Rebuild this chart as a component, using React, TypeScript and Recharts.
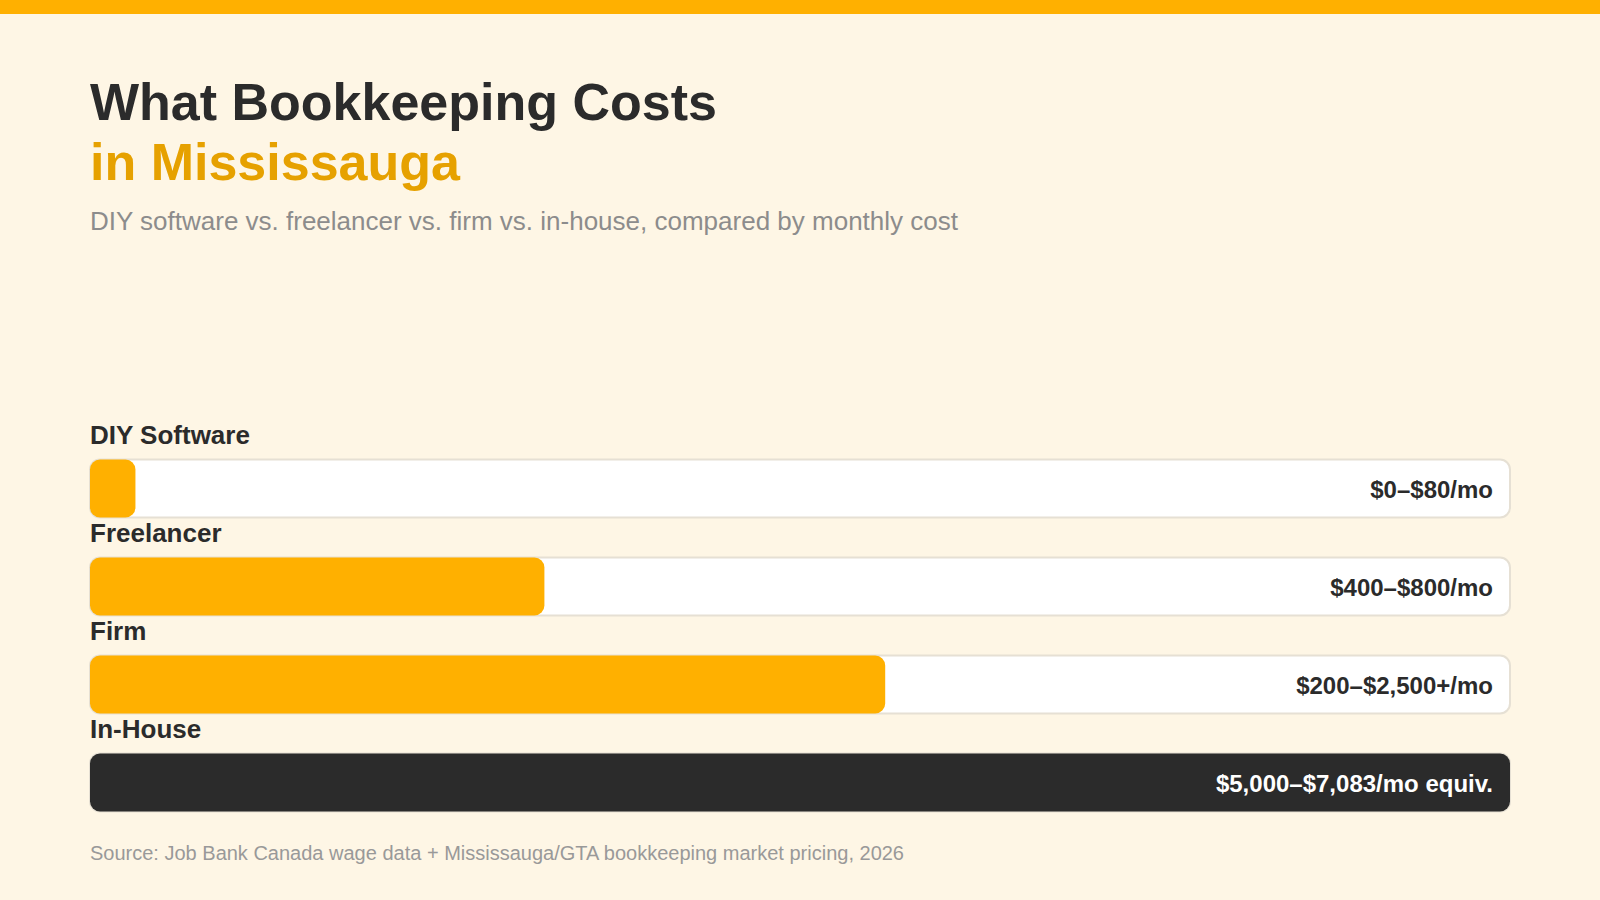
import React from "react";
import { BarChart, Bar, XAxis, YAxis, Cell, LabelList } from "recharts";

const categories = ["DIY Software", "Freelancer", "Firm", "In-House"];
const barValues = [3.2, 32, 56, 100];
const rangeLabels = ["$0–$80/mo", "$400–$800/mo", "$200–$2,500+/mo", "$5,000–$7,083/mo equiv."];
const highlight = [false, false, false, true];

const data = categories.map((name, i) => ({
  name,
  value: barValues[i],
  range: rangeLabels[i],
  dark: highlight[i],
}));

const W = 1600;
const H = 900;
const MARGIN = { top: 439.5, right: 90, bottom: 68.5, left: 90 };
const FONT = "'Liberation Sans', Arial, Helvetica, sans-serif";
const ORANGE = "#FFB000";
const DARK = "#2B2B2B";
const BG = "#FEF6E5";

const CategoryLabel = (props: any) => {
  const { x, y, value } = props;
  return (
    <text x={x} y={y - 15.5} fill={DARK} fontSize={26} fontWeight={700} fontFamily={FONT}>
      {value}
    </text>
  );
};

const RangeLabel = (props: any) => {
  const { y, height, value, index } = props;
  const right = W - MARGIN.right - 17;
  return (
    <text
      x={right}
      y={y + height / 2 + 9}
      textAnchor="end"
      fill={data[index]?.dark ? "#FFFFFF" : DARK}
      fontSize={24}
      fontWeight={700}
      fontFamily={FONT}
    >
      {value}
    </text>
  );
};

export default function App() {
  return (
    <div style={{ position: "absolute", left: 0, top: 0, width: W, height: H, background: BG, overflow: "hidden" }}>
      <svg width={W} height={H} style={{ position: "absolute", left: 0, top: 0 }}>
        <rect x={0} y={0} width={W} height={14} fill={ORANGE} />
        <text x={90} y={120} fontSize={52} fontWeight={700} fill={DARK} fontFamily={FONT}>
          What Bookkeeping Costs
        </text>
        <text x={90} y={180} fontSize={52} fontWeight={700} fill="#E6A100" fontFamily={FONT}>
          in Mississauga
        </text>
        <text x={90} y={230} fontSize={26} fill="#8C8C8C" fontFamily={FONT}>
          DIY software vs. freelancer vs. firm vs. in-house, compared by monthly cost
        </text>
        <text x={90} y={860} fontSize={20} fill="#999999" fontFamily={FONT}>
          Source: Job Bank Canada wage data + Mississauga/GTA bookkeeping market pricing, 2026
        </text>
      </svg>
      <div style={{ position: "absolute", left: 0, top: 0 }}>
        <BarChart width={W} height={H} data={data} layout="vertical" margin={MARGIN}>
          <XAxis type="number" domain={[0, 100]} hide />
          <YAxis type="category" dataKey="name" hide />
          <Bar
            dataKey="value"
            barSize={58}
            radius={10}
            isAnimationActive={false}
            background={{ fill: "#FFFFFF", stroke: "#E6E0D4", strokeWidth: 2, radius: 10 } as any}
          >
            {data.map((d, i) => (
              <Cell key={i} fill={d.dark ? DARK : ORANGE} />
            ))}
            <LabelList dataKey="name" content={CategoryLabel} />
            <LabelList dataKey="range" content={RangeLabel} />
          </Bar>
        </BarChart>
      </div>
    </div>
  );
}
